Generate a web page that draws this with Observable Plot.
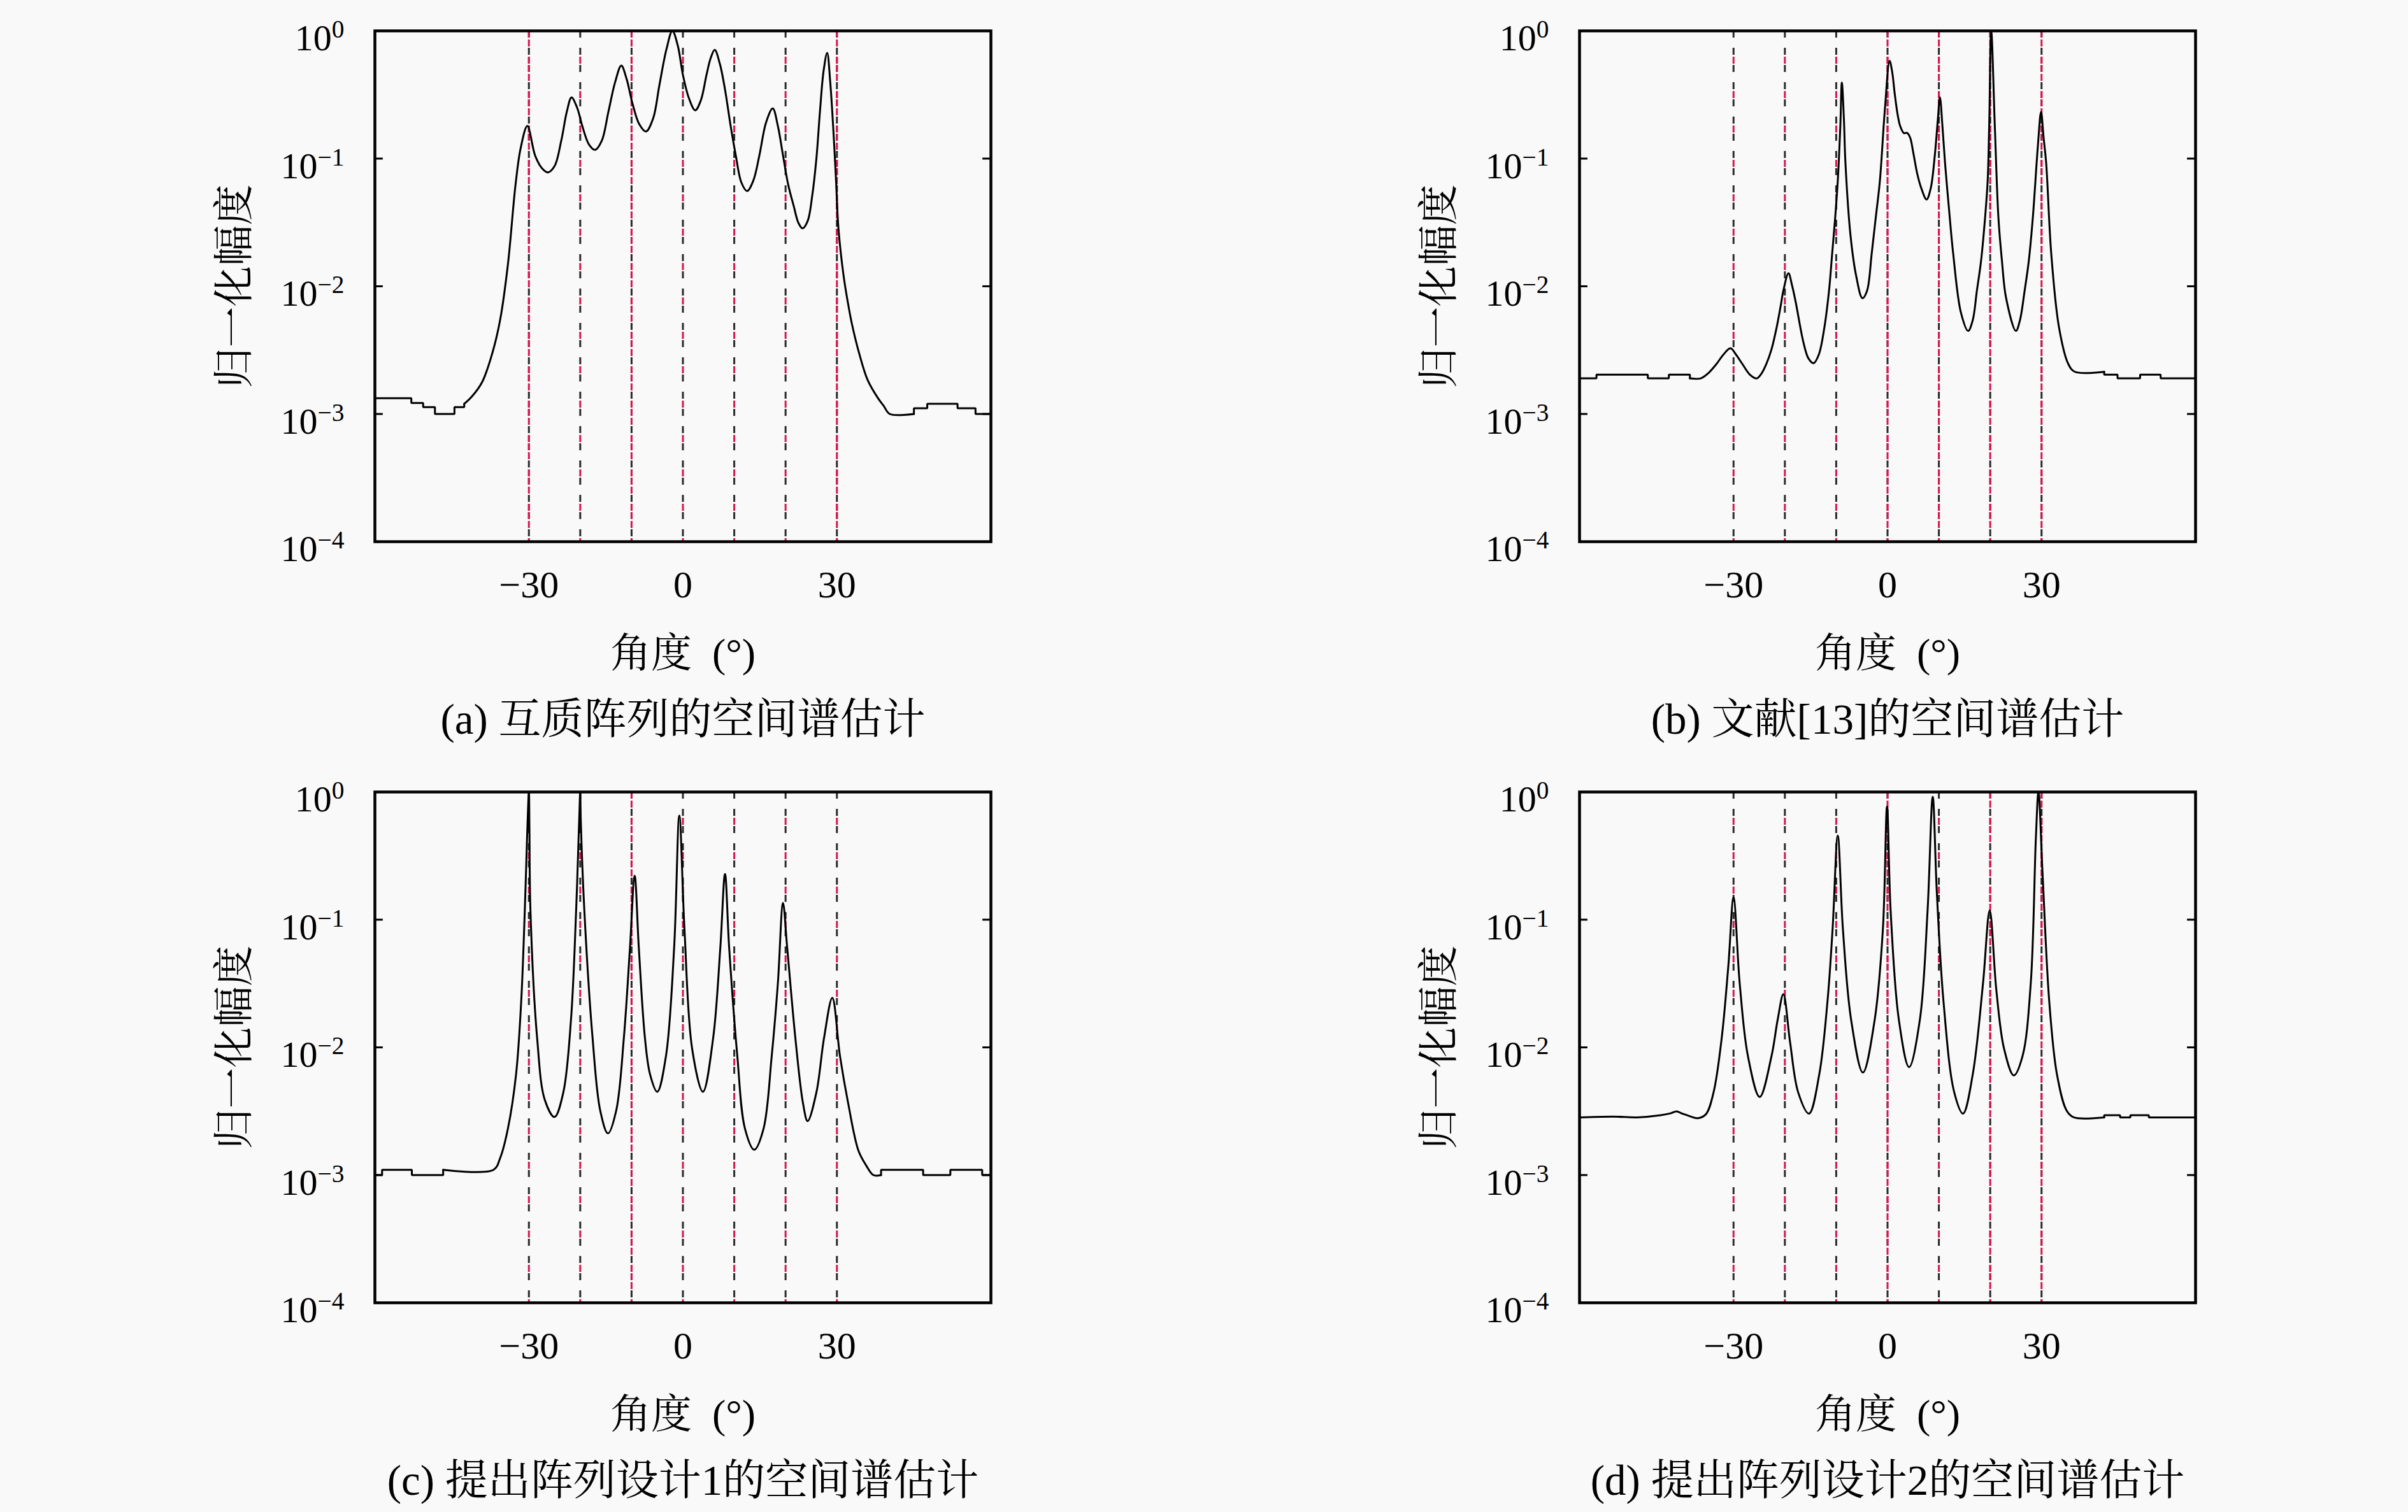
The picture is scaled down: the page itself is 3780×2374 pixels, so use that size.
<!DOCTYPE html>
<html>
<head>
<meta charset="utf-8">
<script src="https://cdn.jsdelivr.net/npm/d3@7"></script>
<script src="https://cdn.jsdelivr.net/npm/@observablehq/plot@0.6"></script>
<style>
html, body { margin: 0; padding: 0; background: #f9f9f9; }
#root { position: relative; width: 3780px; height: 2374px; background: #f9f9f9; overflow: hidden; }
.panel { position: absolute; }
</style>
</head>
<body>
<div id="root"></div>
<script>
// ---------- shared labels / ticks ----------
const doaAngles = [-30, -20, -10, 0, 10, 20, 30];
const xTicks = [-30, 0, 30];
const yTicks = [1, 0.1, 0.01, 0.001, 0.0001];
const yExponents = ["0", "−1", "−2", "−3", "−4"];
const innerTicks = [0.1, 0.01, 0.001];
const yLabel = "归一化幅度";
const xLabel = "角度\u2002(°)";
const captions = [
  "(a) 互质阵列的空间谱估计",
  "(b) 文献[13]的空间谱估计",
  "(c) 提出阵列设计1的空间谱估计",
  "(d) 提出阵列设计2的空间谱估计"
];

// ---------- (a) coprime array ----------
const aAngle = [-60, -52.9, -52.9, -50.6, -50.6, -48.3, -48.3, -44.5, -44.5, -42.6, -42.6, -41.1, -39.1, -37.1, -35.6, -34.1, -32.6, -31.6, -30.3, -28.8, -27.5, -26.3, -25.0, -23.7, -22.6, -21.7, -20.6, -19.6, -18.3, -17.1, -15.8, -14.5, -13.2, -12.0, -11.0, -9.8, -8.5, -7.2, -5.8, -4.6, -3.2, -2.05, -1.0, 0, 1.2, 2.4, 3.5, 4.6, 5.4, 6.2, 7.2, 8.2, 9.3, 10.3, 11.4, 12.5, 13.7, 14.9, 16.2, 17.5, 18.5, 19.5, 20.5, 21.6, 22.5, 23.3, 24.3, 25.2, 26.0, 26.7, 27.4, 28.1, 28.7, 29.3, 29.8, 30.3, 31.3, 32.1, 32.9, 34.4, 36.0, 38.0, 39.1, 40.3, 45.0, 45.0, 47.6, 47.6, 53.5, 53.5, 57.0, 57.0, 60];
const aValue = [0.00133, 0.00133, 0.00122, 0.00122, 0.00113, 0.00113, 0.00100, 0.00100, 0.00113, 0.00113, 0.00120, 0.00137, 0.00178, 0.00302, 0.00547, 0.0147, 0.0627, 0.121, 0.180, 0.106, 0.0844, 0.078, 0.0873, 0.138, 0.234, 0.301, 0.25, 0.180, 0.129, 0.117, 0.138, 0.234, 0.397, 0.535, 0.425, 0.268, 0.186, 0.163, 0.206, 0.372, 0.719, 1.0, 0.768, 0.453, 0.295, 0.239, 0.286, 0.453, 0.61, 0.71, 0.552, 0.348, 0.180, 0.106, 0.0648, 0.0557, 0.067, 0.106, 0.192, 0.247, 0.180, 0.106, 0.0627, 0.0423, 0.0314, 0.0284, 0.0324, 0.0515, 0.0995, 0.234, 0.484, 0.673, 0.397, 0.169, 0.0716, 0.0284, 0.0121, 0.0076, 0.00512, 0.00292, 0.00184, 0.00133, 0.00116, 0.00100, 0.00100, 0.00111, 0.00111, 0.00120, 0.00120, 0.00111, 0.00111, 0.00100, 0.00100];

// ---------- (b) reference [13] ----------
const bAngle = [-60, -56.7, -56.7, -46.7, -46.7, -42.6, -42.6, -38.5, -38.5, -36.4, -34.9, -33.3, -32.0, -30.6, -29.5, -28.3, -26.8, -25.5, -24.5, -23.6, -22.6, -21.6, -20.8, -20.3, -19.3, -18.6, -17.9, -16.4, -15.4, -14.4, -13.4, -12.3, -11.4, -10.8, -10.2, -9.7, -9.2, -8.9, -8.5, -8.2, -7.2, -6.1, -4.9, -4.0, -3.1, -2.3, -1.5, -0.5, 0.4, 0.9, 1.4, 2.0, 2.5, 3.2, 3.8, 4.4, 5.0, 5.8, 6.6, 7.6, 8.4, 9.2, 9.8, 10.2, 10.7, 11.2, 12.0, 12.8, 14.3, 15.7, 16.6, 17.4, 18.2, 19.0, 19.5, 19.8, 20.2, 20.9, 21.6, 22.3, 23.1, 25.0, 25.8, 26.7, 27.5, 28.3, 29.3, 29.9, 30.4, 30.9, 31.9, 33.4, 35.2, 36.5, 42.2, 42.2, 44.8, 44.8, 49.2, 49.2, 53.2, 53.2, 60];
const bValue = [0.0019, 0.0019, 0.00203, 0.00203, 0.0019, 0.0019, 0.00203, 0.00203, 0.0019, 0.0019, 0.00209, 0.00247, 0.00291, 0.00327, 0.00291, 0.00247, 0.00203, 0.0019, 0.00209, 0.00247, 0.00321, 0.00477, 0.00708, 0.00921, 0.01264, 0.01016, 0.00756, 0.00366, 0.00272, 0.0025, 0.00291, 0.00477, 0.00921, 0.0178, 0.0344, 0.0664, 0.178, 0.393, 0.203, 0.0923, 0.0247, 0.012, 0.00807, 0.00921, 0.0178, 0.0344, 0.0664, 0.248, 0.583, 0.478, 0.322, 0.217, 0.178, 0.158, 0.159, 0.146, 0.112, 0.0757, 0.0582, 0.0478, 0.0582, 0.105, 0.203, 0.302, 0.178, 0.0923, 0.0392, 0.0178, 0.00621, 0.00447, 0.00544, 0.00921, 0.0156, 0.0344, 0.0664, 0.178, 1.0, 0.178, 0.0344, 0.0156, 0.00807, 0.00447, 0.00544, 0.00921, 0.0156, 0.0344, 0.128, 0.232, 0.146, 0.0923, 0.0178, 0.00477, 0.00247, 0.00214, 0.00214, 0.00203, 0.00203, 0.0019, 0.0019, 0.00203, 0.00203, 0.0019, 0.0019];

// ---------- (c) proposed design 1 ----------
const cAngle = [-60, -58.6, -58.6, -52.8, -52.8, -46.7, -46.7, -36.9, -35.6, -34.1, -32.5, -31.5, -30.8, -30.3, -30.0, -29.9, -29.7, -28.4, -26.9, -25.0, -23.3, -21.8, -20.8, -20.2, -20.0, -19.9, -19.2, -17.6, -16.1, -14.6, -13.0, -11.5, -10.3, -9.4, -8.6, -7.4, -6.4, -5.0, -3.3, -1.7, -0.7, 0.3, 1.8, 3.9, 5.9, 7.3, 8.2, 9.0, 10.6, 12.1, 13.9, 15.7, 17.3, 18.5, 19.5, 20.3, 21.9, 23.4, 24.3, 26.0, 27.5, 29.1, 30.6, 32.2, 34.2, 35.7, 37.1, 38.6, 38.6, 46.8, 46.8, 52.1, 52.1, 58.3, 58.3, 60];
const cValue = [0.001, 0.001, 0.0011, 0.0011, 0.001, 0.001, 0.0011, 0.0011, 0.00136, 0.0023, 0.00615, 0.0229, 0.118, 0.519, 1.0, 0.519, 0.118, 0.0119, 0.00388, 0.00285, 0.00443, 0.0165, 0.118, 0.611, 1.0, 0.611, 0.118, 0.0119, 0.00319, 0.00212, 0.00319, 0.0119, 0.0613, 0.221, 0.0613, 0.0119, 0.00615, 0.00449, 0.00855, 0.0613, 0.653, 0.0851, 0.00975, 0.00449, 0.0119, 0.0613, 0.228, 0.0613, 0.00855, 0.0023, 0.00158, 0.0023, 0.00855, 0.0318, 0.135, 0.0613, 0.0119, 0.00364, 0.00265, 0.00443, 0.0119, 0.0244, 0.00855, 0.00364, 0.00155, 0.00119, 0.001, 0.001, 0.0011, 0.0011, 0.001, 0.001, 0.0011, 0.0011, 0.001, 0.001];

// ---------- (d) proposed design 2 ----------
const dAngle = [-60, -53.4, -48.8, -44.2, -42.2, -41.1, -40.0, -38.5, -37.0, -35.4, -33.9, -32.3, -31.0, -30.0, -28.8, -27.2, -24.9, -22.6, -21.4, -20.3, -19.0, -17.4, -15.3, -13.3, -11.7, -10.7, -9.7, -8.7, -7.1, -4.8, -2.5, -0.9, -0.1, 0.6, 2.2, 4.2, 6.3, 7.8, 8.8, 9.6, 10.9, 13.0, 14.7, 16.6, 18.6, 19.9, 21.2, 22.7, 24.6, 26.3, 27.9, 28.9, 29.4, 30.2, 31.5, 33.0, 34.9, 36.3, 42.2, 42.2, 45.3, 45.3, 47.3, 47.3, 50.9, 50.9, 60];
const dValue = [0.00283, 0.00287, 0.00283, 0.00294, 0.00305, 0.00315, 0.00303, 0.00289, 0.00279, 0.00299, 0.00443, 0.0119, 0.0441, 0.149, 0.0318, 0.00855, 0.00409, 0.00855, 0.0165, 0.0261, 0.0111, 0.00443, 0.00303, 0.00615, 0.0229, 0.0851, 0.455, 0.0851, 0.0165, 0.00635, 0.0165, 0.0851, 0.769, 0.118, 0.0165, 0.00701, 0.0165, 0.118, 0.918, 0.164, 0.0229, 0.00443, 0.00303, 0.00615, 0.0318, 0.118, 0.0279, 0.00975, 0.00603, 0.00855, 0.0318, 0.44, 1.0, 0.228, 0.0229, 0.00615, 0.00319, 0.00283, 0.00283, 0.00294, 0.00294, 0.00283, 0.00283, 0.00294, 0.00294, 0.00283, 0.00283];

// lines where the red (true direction) dashes dominate
const aRed = [-30, -10, 30];
const bRed = [0, 10, 20, 30];
const cRed = [-10];
const dRed = [0, 20, 30];

const panels = [
  {angle: aAngle, value: aValue, red: aRed, caption: captions[0], left: 288, top: 18},
  {angle: bAngle, value: bValue, red: bRed, caption: captions[1], left: 2179, top: 18},
  {angle: cAngle, value: cValue, red: cRed, caption: captions[2], left: 288, top: 1213},
  {angle: dAngle, value: dValue, red: dRed, caption: captions[3], left: 2179, top: 1213}
];

const RED = "#d6164f";
const FONT = "'Liberation Serif', 'Noto Serif CJK SC', 'Noto Sans CJK SC', serif";
const root = document.getElementById("root");

// split a series into stair-stepped tails (drawn straight) and the smooth middle
function splitSeries(angle, value) {
  const data = angle.map((a, i) => ({a, v: value[i]}));
  const dupIdx = [];
  for (let i = 1; i < angle.length; i++) if (angle[i] === angle[i - 1]) dupIdx.push(i);
  const leftDup = dupIdx.filter(i => angle[i] < 0);
  const rightDup = dupIdx.filter(i => angle[i] > 0);
  const i0 = leftDup.length ? d3.max(leftDup) : 0;
  const i1 = rightDup.length ? d3.min(rightDup) - 1 : angle.length - 1;
  return {
    left: data.slice(0, i0 + 1),
    mid: data.slice(i0, i1 + 1),
    right: data.slice(i1)
  };
}

for (const p of panels) {
  const s = splitSeries(p.angle, p.value);
  const chart = Plot.plot({
    width: 300 + 967 + 40,
    height: 30 + 802 + 330,
    marginLeft: 300, marginRight: 40, marginTop: 30, marginBottom: 330,
    x: {domain: [-60, 60], axis: null},
    y: {type: "log", domain: [1e-4, 1], axis: null},
    style: {background: "transparent", fontFamily: FONT, color: "#000", overflow: "visible"},
    marks: [
      Plot.ruleX(doaAngles, {stroke: RED, strokeWidth: 3, strokeDasharray: "11,43", strokeDashoffset: 13}),
      Plot.ruleX(doaAngles, {stroke: "#2a2a2a", strokeWidth: 3, strokeDasharray: "11,16"}),
      Plot.ruleX(p.red, {stroke: RED, strokeWidth: 3, strokeDasharray: "11,16", strokeDashoffset: 13}),
      Plot.ruleX(p.red, {stroke: RED, strokeWidth: 3, strokeDasharray: "11,43"}),
      Plot.line(s.left, {x: "a", y: "v", stroke: "#000", strokeWidth: 3, strokeLinejoin: "miter"}),
      Plot.line(s.mid, {x: "a", y: "v", stroke: "#000", strokeWidth: 3, curve: "catmull-rom"}),
      Plot.line(s.right, {x: "a", y: "v", stroke: "#000", strokeWidth: 3, strokeLinejoin: "miter"}),
      Plot.ruleY(innerTicks, {x1: -60, x2: -58.4, stroke: "#000", strokeWidth: 3}),
      Plot.ruleY(innerTicks, {x1: 58.4, x2: 60, stroke: "#000", strokeWidth: 3}),
      Plot.frame({stroke: "#000", strokeWidth: 4.5}),
      Plot.text(yTicks, {x: -60, y: d => d, text: (d, i) => "10^" + yExponents[i], textAnchor: "end", lineAnchor: "middle", dx: -48, dy: 12, fontSize: 58, fill: "#000"}),
      Plot.text(xTicks, {x: d => d, frameAnchor: "bottom", textAnchor: "middle", lineAnchor: "middle", dy: 68, text: d => d < 0 ? "−" + (-d) : String(d), fontSize: 60, fill: "#000"}),
      Plot.text([xLabel], {frameAnchor: "bottom", textAnchor: "middle", lineAnchor: "middle", dy: 176, text: d => d, fontSize: 64, fill: "#000"}),
      Plot.text([p.caption], {frameAnchor: "bottom", textAnchor: "middle", lineAnchor: "middle", dy: 280, text: d => d, fontSize: 67, fill: "#000"}),
      Plot.text([yLabel], {frameAnchor: "left", textAnchor: "middle", lineAnchor: "middle", dx: -220, rotate: -90, text: d => d, fontSize: 64, fill: "#000"})
    ]
  });
  // render exponents as superscripts
  d3.select(chart).selectAll("text").each(function () {
    const t = this.textContent;
    const m = t.match(/^10\^(.+)$/);
    if (m) {
      this.textContent = "10";
      d3.select(this).append("tspan").attr("dy", "-0.5em").attr("font-size", "0.68em").text(m[1]);
    }
  });
  const div = document.createElement("div");
  div.className = "panel";
  div.style.left = p.left + "px";
  div.style.top = p.top + "px";
  div.appendChild(chart);
  root.appendChild(div);
}
</script>
</body>
</html>
